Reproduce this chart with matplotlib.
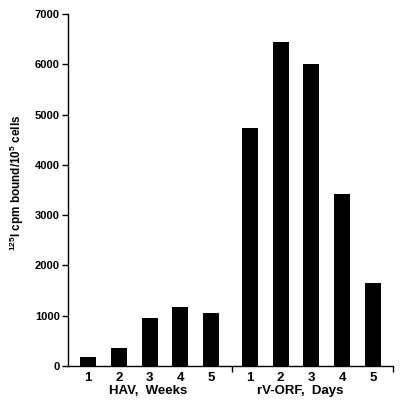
import matplotlib.pyplot as plt
import numpy as np

plt.rcParams['font.family'] = ['Liberation Sans', 'DejaVu Sans']
plt.rcParams['font.weight'] = 'bold'
plt.rcParams['mathtext.default'] = 'regular'

# data
hav_weeks = ["1", "2", "3", "4", "5"]
hav_values = [180, 360, 950, 1170, 1050]
orf_days = ["1", "2", "3", "4", "5"]
orf_values = [4730, 6440, 6000, 3430, 1650]
group_labels = ["HAV,  Weeks", "rV-ORF,  Days"]

gap = 1.26
x_hav = np.arange(len(hav_values))
x_orf = np.arange(len(orf_values)) + x_hav[-1] + gap

fig = plt.figure(figsize=(4, 4.04), dpi=100)
ax = fig.add_axes([0.17, 0.094, 0.8125, 0.871])

ax.bar(x_hav, hav_values, width=0.52, color="black")
ax.bar(x_orf, orf_values, width=0.52, color="black")

ax.set_xlim(-0.65, x_orf[-1] + 0.65)
ax.set_ylim(0, 7000)
ax.set_yticks(range(0, 7001, 1000))
ax.tick_params(axis="y", labelsize=8, length=4, width=1, direction="out", pad=2)

ax.set_xticks(list(x_hav) + list(x_orf))
ax.set_xticklabels(hav_weeks + orf_days, fontsize=9.5)
ax.tick_params(axis="x", length=0, pad=4)
ax.set_xticks([x_hav[-1] + 0.68, x_orf[-1] + 0.64], minor=True)
ax.tick_params(axis="x", which="minor", length=4, width=1, direction="out")

for s in ["top", "right"]:
    ax.spines[s].set_visible(False)
ax.spines["left"].set_linewidth(1)
ax.spines["bottom"].set_linewidth(1)

ax.text(x_hav[2] - 0.05, -0.07, group_labels[0], transform=ax.get_xaxis_transform(),
        ha="center", va="center", fontsize=9.5, fontweight="bold")
ax.text(x_orf[2] - 0.35, -0.07, group_labels[1], transform=ax.get_xaxis_transform(),
        ha="center", va="center", fontsize=9.5, fontweight="bold")

ax.set_ylabel(r"$^{125}$I cpm bound/10$^{5}$ cells", fontsize=8.5, fontweight="bold")
ax.yaxis.set_label_coords(-0.13, 0.52)

fig.savefig("out.png", dpi=100)
